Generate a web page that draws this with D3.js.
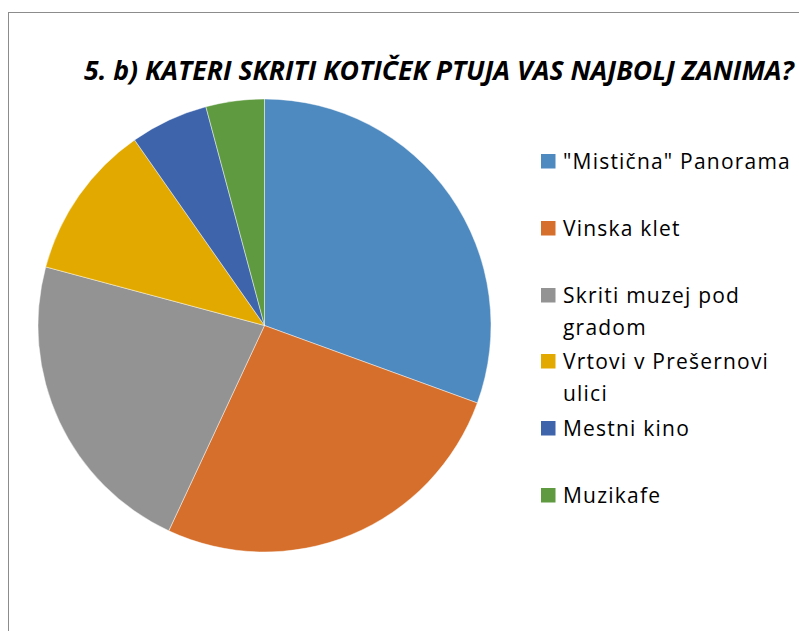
<!DOCTYPE html>
<html>
<head>
<meta charset="utf-8">
<script src="https://cdn.jsdelivr.net/npm/d3@7"></script>
<style>
  body { margin: 0; background: #fff; }
  svg { display: block; font-family: "Open Sans", "Liberation Sans", sans-serif; }
</style>
</head>
<body>
<svg width="799" height="631"></svg>
<script>
const titleText = "5. b) KATERI SKRITI KOTIČEK PTUJA VAS NAJBOLJ ZANIMA?";
const categories = ["\"Mistična\" Panorama", "Vinska klet", "Skriti muzej pod gradom", "Vrtovi v Prešernovi ulici", "Mestni kino", "Muzikafe"];
const legendLines = [["\"Mistična\" Panorama"], ["Vinska klet"], ["Skriti muzej pod", "gradom"], ["Vrtovi v Prešernovi", "ulici"], ["Mestni kino"], ["Muzikafe"]];
const values = [22, 19, 16, 8, 4, 3];
const colors = ["#4e8abf", "#d56f2b", "#939393", "#e2aa00", "#3e64ac", "#5f9a40"];

const svg = d3.select("svg");
const width = +svg.attr("width");
const height = +svg.attr("height");

// chart frame (runs off the right and bottom of the picture)
svg.append("rect")
  .attr("x", 8.5).attr("y", 12.5)
  .attr("width", width + 20).attr("height", height + 20)
  .attr("fill", "none")
  .attr("stroke", "#8c8c8c")
  .attr("stroke-width", 1);

// title, fitted to the reference width
const title = svg.append("text")
  .attr("x", 84).attr("y", 80)
  .attr("font-size", 24)
  .attr("font-weight", "bold")
  .attr("font-style", "italic")
  .attr("fill", "#000")
  .text(titleText);
const tw = title.node().getComputedTextLength();
title.attr("font-size", 24 * 710 / tw);

const data = categories.map((c, i) => ({ name: c, value: values[i] }));

const pie = d3.pie().value(d => d.value).sort(null);
const arc = d3.arc().innerRadius(0).outerRadius(226.5);

const g = svg.append("g").attr("transform", "translate(264.5, 325.5)");

g.selectAll("path").data(pie(data))
  .enter().append("path")
    .attr("d", arc)
    .attr("fill", (d, i) => colors[i])
    .attr("stroke", "#fff")
    .attr("stroke-opacity", 0.6)
    .attr("stroke-width", 0.75);

// legend
const legendY = [161, 228, 295, 361, 428, 495];
const legend = svg.append("g");
const items = legend.selectAll("g").data(legendLines)
  .enter().append("g")
    .attr("transform", (d, i) => `translate(541, ${legendY[i]})`);

items.append("rect")
  .attr("x", 0).attr("y", -7)
  .attr("width", 14.5).attr("height", 14.5)
  .attr("fill", (d, i) => colors[i]);

const labels = items.append("text")
  .attr("x", 22)
  .attr("y", 8)
  .attr("font-size", 21)
  .attr("fill", "#000");

labels.selectAll("tspan").data(d => d)
  .enter().append("tspan")
    .attr("x", 22)
    .attr("dy", (d, i) => i === 0 ? 0 : 32)
    .text(d => d);

// widen the legend text a little to match the reference's spacing
const first = labels.node();
const fw = first.getComputedTextLength();
const ls = (228 - fw) / (legendLines[0][0].length);
labels.attr("letter-spacing", ls);
</script>
</body>
</html>
